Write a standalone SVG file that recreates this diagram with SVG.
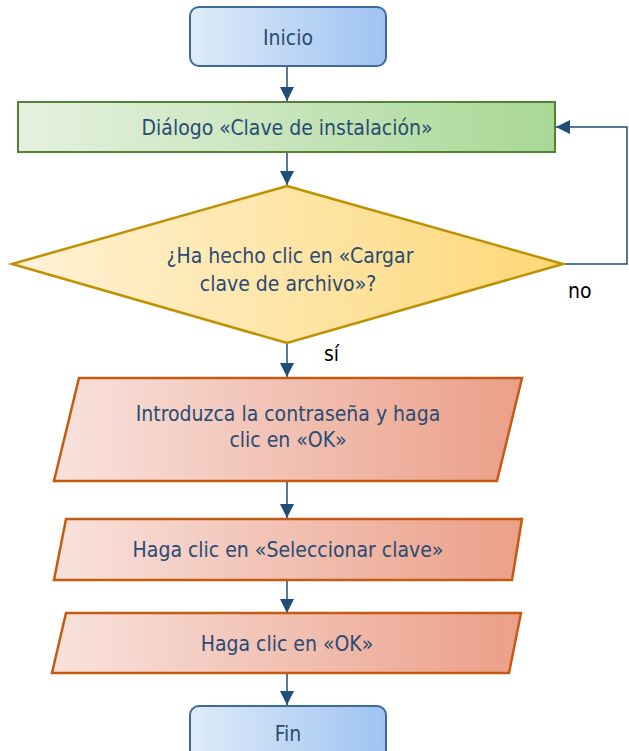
<svg xmlns="http://www.w3.org/2000/svg" width="629" height="751" viewBox="0 0 629 751">
<defs>
<linearGradient id="gBlue" x1="0" y1="0" x2="1" y2="0"><stop offset="0" stop-color="#deebf9"/><stop offset="1" stop-color="#9fc3f1"/></linearGradient>
<linearGradient id="gGreen" x1="0" y1="0" x2="1" y2="0"><stop offset="0" stop-color="#e5f1df"/><stop offset="1" stop-color="#a8d896"/></linearGradient>
<linearGradient id="gYellow" x1="0" y1="0" x2="1" y2="0"><stop offset="0" stop-color="#fff2d6"/><stop offset="1" stop-color="#fdd878"/></linearGradient>
<linearGradient id="gRed" x1="0" y1="0" x2="1" y2="0"><stop offset="0" stop-color="#f8e2dd"/><stop offset="1" stop-color="#eb9f88"/></linearGradient>
<marker id="arr" markerUnits="userSpaceOnUse" markerWidth="14" markerHeight="16" refX="14" refY="7" orient="auto" viewBox="0 0 14 14"><path d="M0,0 L14,7 L0,14 Z" fill="#1f4e79"/></marker>
</defs>
<style>
.t{font-family:"DejaVu Sans Condensed","DejaVu Sans",sans-serif;font-stretch:condensed;font-size:21px;fill:#2a4b72;text-anchor:middle}
.lbl{font-family:"DejaVu Sans Condensed","DejaVu Sans",sans-serif;font-stretch:condensed;font-size:21px;fill:#000}
.c{fill:none;stroke:#1f4e79;stroke-width:1.5}
</style>
<g id="connectors">
<path class="c" d="M287,66 V101" marker-end="url(#arr)"/>
<path class="c" d="M287,152 V185" marker-end="url(#arr)"/>
<path class="c" d="M287,343 V377" marker-end="url(#arr)"/>
<path class="c" d="M287,481 V518" marker-end="url(#arr)"/>
<path class="c" d="M287,580 V613" marker-end="url(#arr)"/>
<path class="c" d="M287,673 V705" marker-end="url(#arr)"/>
<path class="c" d="M563,264 H627 V127 H556" marker-end="url(#arr)"/>
<text class="lbl" x="568" y="298">no</text>
<text class="lbl" x="324" y="361">sí</text>
</g>
<g id="inicio">
<rect x="190" y="7" width="196" height="59" rx="9" fill="url(#gBlue)" stroke="#3d6a99" stroke-width="2"/>
<text class="t" x="288" y="45">Inicio</text>
</g>
<g id="dialogo">
<rect x="18" y="102" width="537" height="50" fill="url(#gGreen)" stroke="#548235" stroke-width="2"/>
<text class="t" x="287" y="135">Diálogo «Clave de instalación»</text>
</g>
<g id="decision">
<polygon points="287,186 563,264 287,343 12,264" fill="url(#gYellow)" stroke="#bf9000" stroke-width="2.5"/>
<text class="t" x="290" y="263">¿Ha hecho clic en «Cargar</text>
<text class="t" x="288" y="291">clave de archivo»?</text>
</g>
<g id="contrasena">
<polygon points="79,378 522,378 497,481 54,481" fill="url(#gRed)" stroke="#c55a11" stroke-width="2.5"/>
<text class="t" x="288" y="421">Introduzca la contraseña y haga</text>
<text class="t" x="288" y="447">clic en «OK»</text>
</g>
<g id="seleccionar">
<polygon points="66,519 522,519 512,580 54,580" fill="url(#gRed)" stroke="#c55a11" stroke-width="2.5"/>
<text class="t" x="288" y="557">Haga clic en «Seleccionar clave»</text>
</g>
<g id="ok">
<polygon points="66,613 521,613 509,673 52,673" fill="url(#gRed)" stroke="#c55a11" stroke-width="2.5"/>
<text class="t" x="287" y="651">Haga clic en «OK»</text>
</g>
<g id="fin">
<rect x="190" y="706" width="196" height="59" rx="9" fill="url(#gBlue)" stroke="#3d6a99" stroke-width="2"/>
<text class="t" x="288" y="741">Fin</text>
</g>
</svg>
